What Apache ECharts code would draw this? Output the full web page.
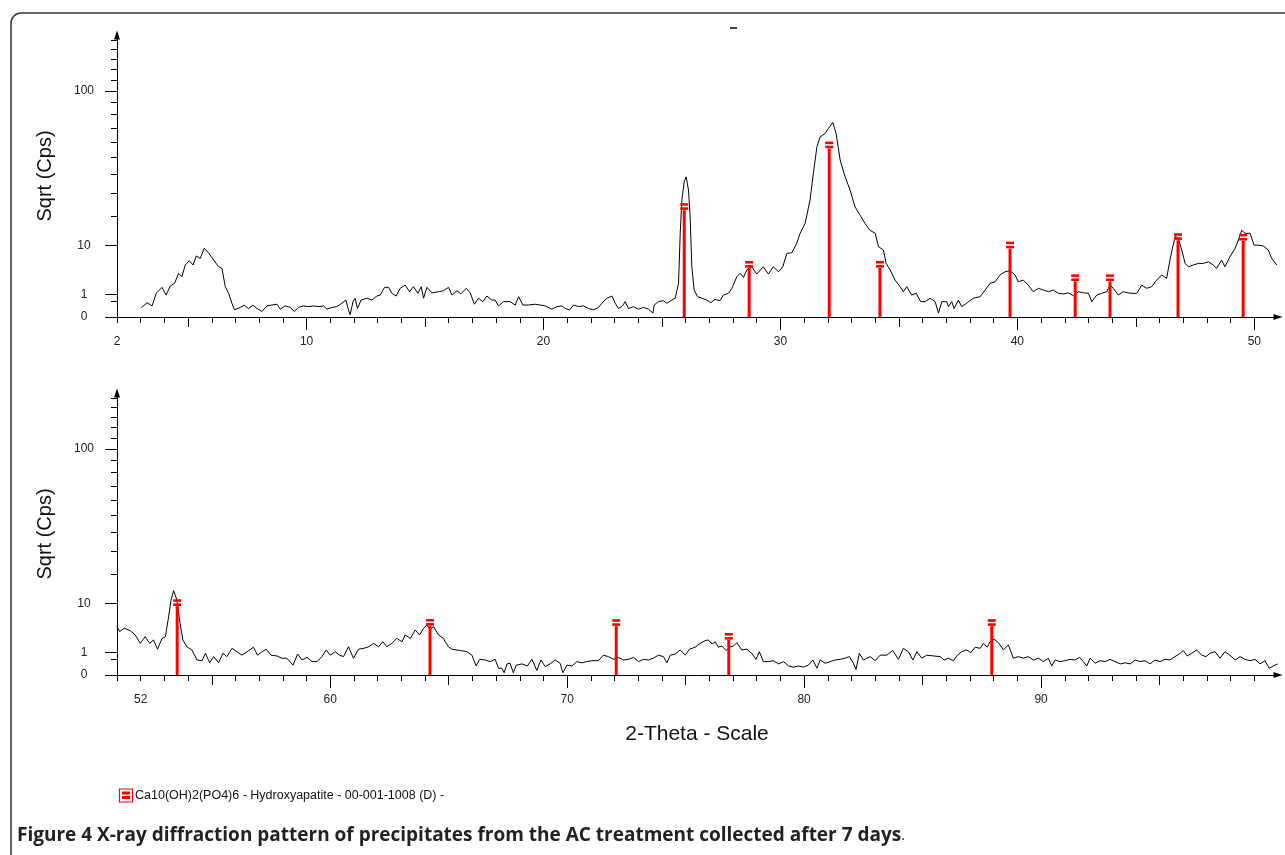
<!DOCTYPE html>
<html>
<head>
<meta charset="utf-8">
<title>XRD - AC treatment, 7 days</title>
<script src="https://cdn.jsdelivr.net/npm/echarts@6.0.0/dist/echarts.min.js"></script>
<style>
html, body { margin: 0; padding: 0; background: #fff; }
#chart { width: 1285px; height: 855px; }
</style>
</head>
<body>
<div id="chart"></div>
<script>
// 2-theta (deg) / counts per second
const topScan = [
  [3.03,0.17],[3.27,0.40],[3.48,0.24],[3.66,1.10],[3.90,1.72],[4.07,0.94],[4.25,1.88],[4.43,2.22],[4.60,3.72],[4.74,3.17],
  [4.88,5.29],[5.05,6.20],[5.21,5.29],[5.35,7.29],[5.51,6.71],[5.68,9.24],[5.86,8.07],[6.08,6.35],[6.29,4.93],[6.43,4.62],
  [6.57,1.80],[6.71,1.10],[6.85,0.37],[6.96,0.10],[7.20,0.18],[7.37,0.27],[7.55,0.14],[7.74,0.27],[7.91,0.14],[8.12,0.06],
  [8.33,0.24],[8.54,0.28],[8.75,0.32],[8.89,0.12],[9.10,0.24],[9.31,0.18],[9.48,0.06],[9.66,0.18],[9.87,0.24],[10.08,0.21],
  [10.30,0.24],[10.51,0.21],[10.72,0.24],[10.86,0.12],[11.07,0.18],[11.28,0.21],[11.49,0.37],[11.66,0.56],[11.77,0.10],[11.84,0.01],
  [11.96,0.46],[12.05,0.69],[12.15,0.14],[12.30,0.56],[12.55,0.69],[12.76,0.56],[12.97,0.86],[13.11,0.94],[13.29,1.72],[13.46,1.72],
  [13.60,1.10],[13.78,0.86],[13.95,1.61],[14.16,1.99],[14.35,1.25],[14.51,1.80],[14.70,1.10],[14.84,1.80],[14.94,0.69],[15.08,1.72],
  [15.29,1.14],[15.57,1.25],[15.78,1.35],[15.99,1.72],[16.14,0.94],[16.35,1.35],[16.51,1.04],[16.74,1.61],[16.91,1.14],[17.08,0.32],
  [17.26,0.69],[17.44,0.46],[17.61,0.86],[17.82,0.56],[17.96,0.56],[18.10,0.24],[18.31,0.46],[18.59,0.46],[18.81,0.28],[18.95,0.81],
  [19.13,0.28],[19.37,0.28],[19.65,0.32],[19.86,0.28],[20.07,0.24],[20.35,0.12],[20.57,0.21],[20.78,0.24],[20.92,0.14],[21.10,0.10],
  [21.27,0.28],[21.48,0.21],[21.69,0.24],[21.90,0.14],[22.11,0.10],[22.32,0.18],[22.46,0.37],[22.68,0.69],[22.89,0.86],[23.03,0.37],
  [23.16,0.14],[23.31,0.21],[23.45,0.46],[23.59,0.14],[23.80,0.21],[24.01,0.12],[24.22,0.18],[24.43,0.12],[24.62,0.03],[24.67,0.28],
  [24.85,0.46],[25.06,0.52],[25.21,0.37],[25.42,0.56],[25.56,0.69],[25.70,2.22],[25.77,13.7],[25.84,26.7],[25.94,35.8],[26.02,38.4],
  [26.12,31.5],[26.19,19.6],[26.26,4.93],[26.36,1.42],[26.50,0.81],[26.68,0.69],[26.89,0.56],[27.06,0.40],[27.24,0.61],[27.45,0.52],
  [27.59,0.94],[27.81,1.10],[27.95,1.61],[28.16,3.17],[28.30,3.72],[28.44,3.06],[28.58,4.33],[28.79,4.93],[29.00,3.61],[29.28,4.93],
  [29.49,3.61],[29.70,4.93],[29.92,4.00],[30.10,4.93],[30.27,7.90],[30.48,8.07],[30.69,10.6],[30.83,13.7],[31.04,17.1],[31.25,26.7],
  [31.39,40.3],[31.54,56.7],[31.68,63.5],[31.89,65.9],[32.03,69.6],[32.21,74.0],[32.35,65.9],[32.52,48.2],[32.73,38.4],[32.94,31.5],
  [33.15,23.7],[33.36,20.3],[33.57,17.1],[33.78,14.7],[34.00,13.7],[34.14,9.67],[34.35,8.76],[34.46,5.62],[34.63,4.33],[34.84,2.66],
  [35.05,1.80],[35.19,1.25],[35.33,1.80],[35.54,0.94],[35.73,1.10],[35.92,0.46],[36.11,0.46],[36.32,0.69],[36.53,0.46],[36.67,0.03],
  [36.81,0.46],[37.02,0.46],[37.09,0.21],[37.23,0.46],[37.33,0.14],[37.51,0.56],[37.65,0.21],[37.86,0.37],[38.14,0.69],[38.43,0.81],
  [38.64,1.42],[38.85,2.22],[39.06,2.43],[39.27,3.46],[39.48,4.00],[39.69,4.20],[39.90,3.46],[40.04,2.43],[40.25,2.66],[40.46,1.99],
  [40.67,1.25],[40.89,1.61],[41.10,1.42],[41.31,1.25],[41.52,1.42],[41.73,1.10],[41.94,1.04],[42.15,1.14],[42.37,0.88],[42.58,1.25],
  [42.79,1.14],[43.00,1.10],[43.14,0.46],[43.35,0.94],[43.56,1.10],[43.77,1.25],[43.91,1.99],[44.05,1.61],[44.26,0.94],[44.47,1.25],
  [44.76,1.10],[45.04,1.10],[45.25,1.99],[45.46,1.61],[45.67,1.80],[45.88,2.66],[46.09,3.46],[46.30,2.92],[46.44,6.35],[46.56,9.67],
  [46.67,12.8],[46.79,12.1],[46.94,8.76],[47.08,5.62],[47.22,4.93],[47.43,5.29],[47.64,5.62],[47.85,5.62],[48.06,5.95],[48.27,5.29],
  [48.41,4.62],[48.62,6.35],[48.76,4.93],[48.97,7.08],[49.19,9.24],[49.33,11.6],[49.47,14.7],[49.61,13.7],[49.82,13.7],[49.99,10.1],
  [50.17,10.1],[50.38,9.86],[50.59,8.76],[50.73,6.71],[50.95,5.29]
];

const bottomScan = [
  [51.00,4.58],[51.11,3.69],[51.31,4.28],[51.56,3.84],[51.77,3.13],[51.98,1.96],[52.19,2.86],[52.38,1.96],[52.54,2.40],[52.71,1.30],
  [52.90,2.62],[53.04,2.86],[53.18,6.66],[53.28,11.0],[53.39,13.9],[53.53,11.0],[53.64,5.90],[53.78,2.40],[53.95,1.56],[54.16,1.23],
  [54.38,0.44],[54.59,0.40],[54.73,0.92],[54.91,0.29],[55.08,0.66],[55.29,0.29],[55.47,0.92],[55.64,0.66],[55.85,1.39],[56.06,1.06],
  [56.27,0.77],[56.49,1.06],[56.76,1.51],[56.93,0.77],[57.12,1.06],[57.30,1.30],[57.50,0.77],[57.75,0.71],[57.96,0.55],[58.17,0.55],
  [58.43,0.19],[58.62,0.86],[58.81,0.44],[59.02,0.61],[59.23,0.35],[59.44,0.35],[59.65,0.66],[59.83,1.23],[60.00,0.77],[60.21,1.06],
  [60.39,0.77],[60.56,0.66],[60.77,1.56],[60.98,0.55],[61.19,1.30],[61.41,1.39],[61.62,1.56],[61.83,1.96],[62.04,1.56],[62.22,2.16],
  [62.39,1.56],[62.60,1.96],[62.81,2.62],[63.03,2.16],[63.16,3.13],[63.38,2.62],[63.59,3.96],[63.77,3.13],[63.94,4.28],[64.08,4.88],
  [64.22,4.08],[64.36,4.58],[64.57,3.13],[64.78,2.62],[64.85,2.16],[64.99,1.56],[65.13,1.30],[65.49,1.17],[65.77,1.06],[65.98,0.77],
  [66.16,0.16],[66.30,0.48],[66.54,0.44],[66.75,0.35],[66.96,0.48],[67.10,0.09],[67.24,0.09],[67.34,0.01],[67.46,0.24],[67.59,0.27],
  [67.73,0.01],[67.85,0.19],[68.09,0.24],[68.32,0.16],[68.51,0.48],[68.72,0.04],[68.89,0.44],[69.07,0.14],[69.28,0.24],[69.49,0.44],
  [69.70,0.27],[69.82,0.01],[69.99,0.19],[70.20,0.16],[70.41,0.35],[70.62,0.29],[70.83,0.35],[71.04,0.40],[71.32,0.40],[71.53,0.77],
  [71.74,0.66],[71.95,0.48],[72.16,0.61],[72.38,0.44],[72.59,0.48],[72.80,0.61],[73.01,0.35],[73.22,0.48],[73.43,0.44],[73.64,0.55],
  [73.85,0.77],[74.06,0.66],[74.21,0.29],[74.35,0.77],[74.56,0.86],[74.77,1.23],[74.98,0.77],[75.16,1.30],[75.40,1.51],[75.61,1.96],
  [75.82,2.31],[75.96,2.40],[76.11,1.88],[76.25,2.16],[76.38,1.51],[76.53,1.64],[76.71,1.17],[76.85,1.51],[77.02,1.64],[77.16,2.04],
  [77.37,1.23],[77.58,1.30],[77.79,0.92],[77.97,0.48],[78.11,1.06],[78.28,0.35],[78.49,0.35],[78.70,0.40],[78.92,0.24],[79.13,0.35],
  [79.34,0.16],[79.55,0.12],[79.76,0.16],[79.97,0.12],[80.18,0.19],[80.37,0.44],[80.54,0.09],[80.68,0.44],[80.89,0.27],[81.10,0.35],
  [81.31,0.44],[81.52,0.48],[81.73,0.55],[81.91,0.66],[82.08,0.27],[82.19,0.06],[82.33,0.92],[82.50,0.44],[82.79,0.66],[83.00,0.40],
  [83.21,0.77],[83.49,0.77],[83.74,1.17],[83.98,0.48],[84.19,1.39],[84.40,1.06],[84.59,0.44],[84.76,1.06],[84.97,0.55],[85.18,0.77],
  [85.46,0.71],[85.74,0.66],[85.91,0.44],[86.09,0.55],[86.30,0.40],[86.47,0.77],[86.65,1.06],[86.86,1.23],[87.03,0.98],[87.22,1.51],
  [87.43,1.39],[87.57,1.96],[87.73,1.51],[87.85,2.16],[88.02,2.50],[88.20,2.04],[88.41,1.23],[88.62,1.77],[88.83,0.55],[89.04,0.66],
  [89.25,0.55],[89.46,0.66],[89.68,0.44],[89.89,0.55],[90.10,0.35],[90.31,0.55],[90.45,0.16],[90.59,0.44],[90.80,0.35],[91.01,0.40],
  [91.22,0.48],[91.43,0.44],[91.62,0.61],[91.78,0.35],[91.93,0.16],[92.07,0.55],[92.28,0.27],[92.49,0.40],[92.70,0.35],[92.91,0.48],
  [93.12,0.35],[93.34,0.24],[93.55,0.29],[93.76,0.24],[93.97,0.44],[94.18,0.35],[94.39,0.40],[94.60,0.24],[94.81,0.44],[95.02,0.35],
  [95.23,0.48],[95.44,0.44],[95.65,0.66],[95.83,0.86],[96.00,1.17],[96.17,0.71],[96.36,0.92],[96.57,1.23],[96.78,0.77],[96.96,0.66],
  [97.13,0.92],[97.34,1.06],[97.55,0.55],[97.76,1.06],[97.97,0.77],[98.19,0.44],[98.40,0.66],[98.61,0.48],[98.82,0.40],[99.03,0.48],
  [99.24,0.24],[99.45,0.40],[99.63,0.09],[99.80,0.16],[99.99,0.24]
];

// reference pattern 00-001-1008 (2-theta, height in cps)
const topSticks = [[25.94,23.8],[28.68,5.4],[32.06,57.8],[34.20,5.4],[39.69,10.1],[42.44,3.0],[43.91,3.0],[46.78,12.6],[49.53,12.4]];
const bottomSticks = [[53.54,10.2],[64.21,5.4],[72.07,5.35],[76.82,2.9],[87.92,5.35]];

// tick labels
const topXLabels = [2, 10, 20, 30, 40, 50];
const bottomXLabels = [52, 60, 70, 80, 90];
const yLabels = [0, 1, 10, 100];
const yMinorTicks = [0.5, 20, 30, 40, 50, 60, 70, 80, 90, 110, 120, 130, 140, 150];

const topRange = [2, 51];
const bottomRange = [51, 100];
const yMaxCps = 155.5;

const FONT = 'Liberation Sans, Arial, sans-serif';
const sq = v => Math.sqrt(v);

// three overlaid x axes per panel: long ticks + labels, 5s, and single degrees
function xAxesFor(gridIndex, range, labels) {
    let longT = [], midT = [], shortT = [];
    for (let v = range[0]; v < range[1]; v++) {
        if (v % 10 === 0) longT.push(v);
        else if (v % 5 === 0) midT.push(v);
        else shortT.push(v);
    }
    let base = {
        type: 'value', gridIndex: gridIndex, position: 'bottom',
        min: range[0], max: range[1],
        splitLine: { show: false },
    };
    return [
        Object.assign({}, base, {
            axisLine: {
                show: true, onZero: false,
                symbol: ['none', 'triangle'], symbolSize: [6, 9],
                lineStyle: { color: '#000', width: 1 },
            },
            axisTick: { show: true, customValues: longT, length: 13, lineStyle: { color: '#000' } },
            axisLabel: { customValues: labels, margin: 19, fontSize: 12, fontFamily: FONT, color: '#222' },
        }),
        Object.assign({}, base, {
            axisLine: { show: false, onZero: false },
            axisTick: { show: true, customValues: midT, length: 10, lineStyle: { color: '#000' } },
            axisLabel: { show: false },
        }),
        Object.assign({}, base, {
            axisLine: { show: false, onZero: false },
            axisTick: { show: true, customValues: shortT, length: 6, lineStyle: { color: '#000' } },
            axisLabel: { show: false },
        }),
    ];
}

// y axis is a square-root scale: plot sqrt(cps), label with cps
function yAxesFor(gridIndex) {
    let base = {
        type: 'value', gridIndex: gridIndex, position: 'left',
        min: 0, max: sq(yMaxCps),
        splitLine: { show: false },
    };
    return [
        Object.assign({}, base, {
            name: 'Sqrt (Cps)', nameLocation: 'middle', nameGap: 62,
            nameTextStyle: { fontSize: 20, fontFamily: FONT, color: '#111' },
            axisLine: {
                show: true, onZero: false,
                symbol: ['none', 'triangle'], symbolSize: [6, 9],
                lineStyle: { color: '#000', width: 1 },
            },
            axisTick: { show: true, customValues: yLabels.map(sq), length: 12, lineStyle: { color: '#000' } },
            axisLabel: {
                customValues: yLabels.map(sq), margin: 33, align: 'center',
                fontSize: 12, fontFamily: FONT, color: '#222',
                formatter: v => String(Math.round(v * v)),
            },
        }),
        Object.assign({}, base, {
            axisLine: { show: false, onZero: false },
            axisTick: { show: true, customValues: yMinorTicks.map(sq), length: 6, lineStyle: { color: '#000' } },
            axisLabel: { show: false },
        }),
    ];
}

// red stick with the double bar cap of the pattern card
function renderStick(params, api) {
    let base = api.coord([api.value(0), 0]);
    let top = api.coord([api.value(0), api.value(1)]);
    let red = { fill: '#ff0000' };
    return {
        type: 'group',
        children: [
            { type: 'rect', shape: { x: top[0] - 1.5, y: top[1] + 3.5, width: 3, height: base[1] - top[1] - 3.5 }, style: red },
            { type: 'rect', shape: { x: top[0] - 4, y: top[1] - 3.5, width: 8, height: 2.6 }, style: red },
            { type: 'rect', shape: { x: top[0] - 4, y: top[1] + 0.6, width: 8, height: 2.6 }, style: red },
        ],
    };
}

function scanSeries(data, xi, yi) {
    return {
        type: 'line', xAxisIndex: xi, yAxisIndex: yi,
        data: data.map(p => [p[0], sq(p[1])]),
        showSymbol: false, symbol: 'none',
        lineStyle: { color: '#000', width: 1 },
        itemStyle: { color: '#000' },
        z: 2,
    };
}

function stickSeries(data, xi, yi) {
    return {
        type: 'custom', xAxisIndex: xi, yAxisIndex: yi,
        data: data.map(p => [p[0], sq(p[1])]),
        renderItem: renderStick,
        z: 3,
    };
}

let myChart = echarts.init(document.getElementById('chart'), null, { renderer: 'canvas' });
let option = {
    animation: false,
    backgroundColor: '#fff',
    grid: [
        { left: 117, right: 7, top: 35, height: 282 },
        { left: 117, right: 7, top: 393, height: 282 },
    ],
    xAxis: [].concat(xAxesFor(0, topRange, topXLabels), xAxesFor(1, bottomRange, bottomXLabels)),
    yAxis: [].concat(yAxesFor(0), yAxesFor(1)),
    series: [
        scanSeries(topScan, 0, 0),
        stickSeries(topSticks, 0, 0),
        scanSeries(bottomScan, 3, 2),
        stickSeries(bottomSticks, 3, 2),
    ],
    graphic: [
        // frame of the figure
        {
            type: 'rect', z: -1,
            shape: { x: 11, y: 13, width: 1400, height: 1000, r: 10 },
            style: { fill: 'none', stroke: '#333', lineWidth: 1.5 },
        },
        { type: 'line', shape: { x1: 730, y1: 28, x2: 737, y2: 28 }, style: { stroke: '#000', lineWidth: 1.5 } },
        {
            type: 'text', x: 697, y: 734,
            style: { text: '2-Theta - Scale', fontSize: 21, fontFamily: FONT, fill: '#111', align: 'center', verticalAlign: 'middle' },
        },
        // legend
        {
            type: 'group', x: 119, y: 788.5,
            children: [
                { type: 'rect', shape: { x: 0.5, y: 0.5, width: 13, height: 13 }, style: { fill: '#fff', stroke: '#ff0000', lineWidth: 1.2 } },
                { type: 'rect', shape: { x: 3, y: 3, width: 8, height: 3 }, style: { fill: '#ff0000' } },
                { type: 'rect', shape: { x: 3, y: 7.5, width: 8, height: 3 }, style: { fill: '#ff0000' } },
            ],
        },
        {
            type: 'text', x: 135, y: 796,
            style: { text: 'Ca10(OH)2(PO4)6 - Hydroxyapatite - 00-001-1008 (D) -', fontSize: 12.5, fontFamily: FONT, fill: '#111', verticalAlign: 'middle' },
        },
        // caption
        {
            type: 'text', x: 17, y: 836,
            style: {
                text: 'Figure 4 X-ray diffraction pattern of precipitates from the AC treatment collected after 7 days{d|.}',
                fontSize: 19, fontWeight: 'bold', fontFamily: 'Open Sans, sans-serif', fill: '#222', verticalAlign: 'middle',
                rich: { d: { fontWeight: 'normal', fontSize: 14, fontFamily: 'Open Sans, sans-serif', fill: '#222' } },
            },
        },
    ],
};
myChart.setOption(option);
window.addEventListener('resize', () => {
    myChart.resize();
});
</script>
</body>
</html>
